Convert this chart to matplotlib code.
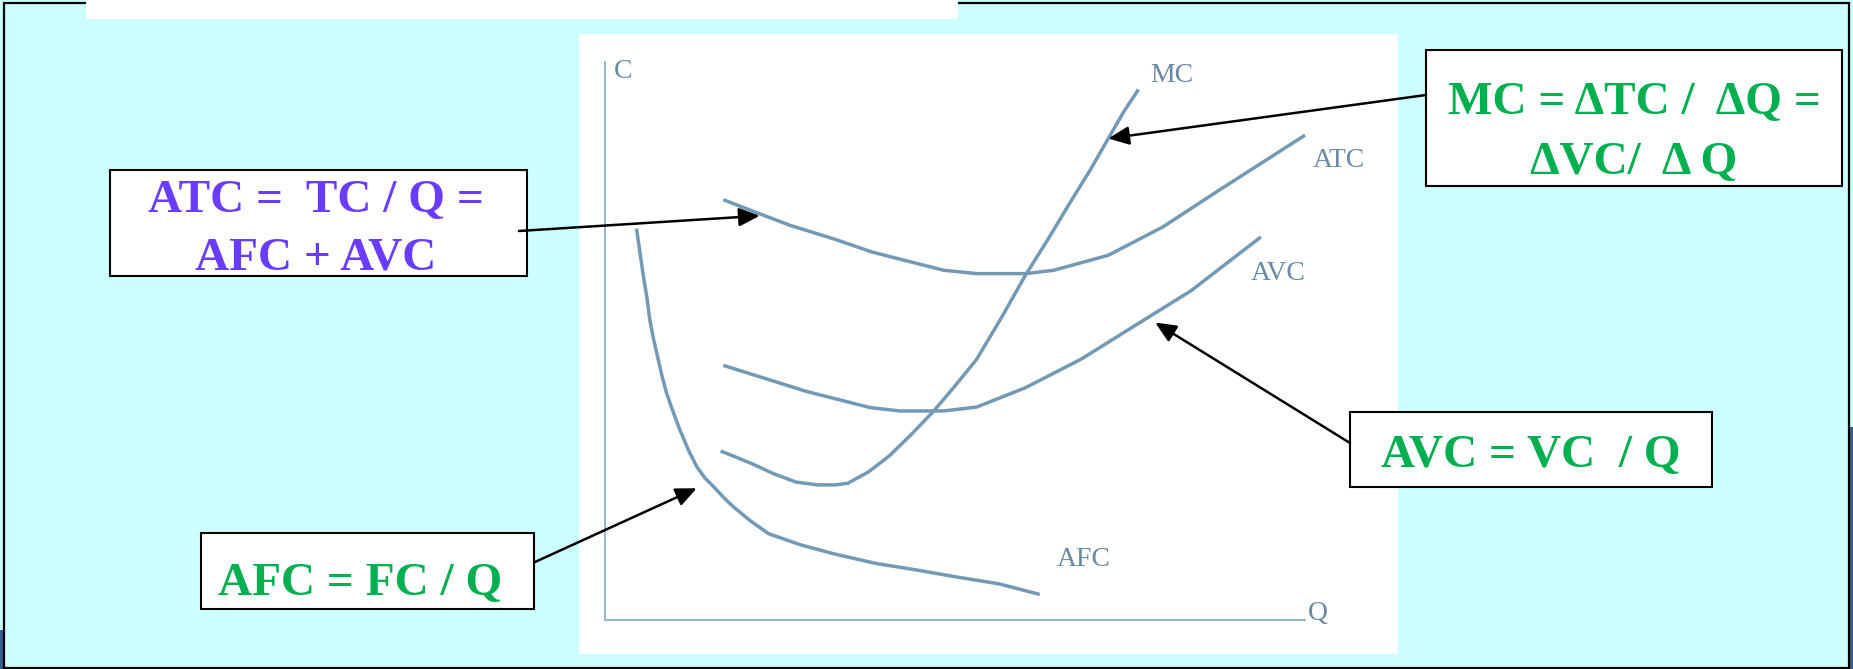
import matplotlib
matplotlib.use("Agg")
import matplotlib.pyplot as plt
from matplotlib.patches import Rectangle

# ---------------- data (chart units: Q 0..100, C 0..100) ----------------
atc_q = [16.9, 21.8, 26.4, 32.8, 38.1, 43.7, 48.4, 53.1, 60.1, 64.1, 71.9, 79.7, 87.6, 100.0]
atc_c = [75.6, 73.2, 71.0, 68.5, 66.2, 64.4, 62.9, 62.3, 62.3, 62.9, 65.6, 70.7, 77.2, 87.2]

avc_q = [16.9, 28.8, 37.9, 42.1, 48.4, 53.1, 60.1, 68.0, 75.9, 83.7, 93.7]
avc_c = [45.8, 41.1, 38.2, 37.6, 37.6, 38.3, 41.8, 46.9, 53.1, 59.2, 68.9]

mc_q = [16.5, 18.7, 21.0, 24.1, 27.3, 30.4, 32.9, 34.7, 37.6, 40.6, 43.7, 46.9,
        50.0, 53.1, 56.6, 60.1, 63.3, 66.4, 69.3, 71.9, 74.1, 76.2]
mc_c = [30.4, 29.3, 28.1, 26.3, 24.8, 24.3, 24.3, 24.6, 26.6, 29.5, 33.3, 37.5,
        42.1, 46.9, 54.3, 62.1, 68.5, 75.0, 80.9, 86.6, 91.4, 95.4]

afc_q = [4.5, 5.5, 6.0, 6.4, 6.9, 7.4, 8.1, 8.8, 9.8, 10.7, 11.9, 13.1, 14.3,
         15.5, 16.9, 18.3, 20.8, 23.4, 28.0, 32.7, 38.6, 44.5, 50.4, 56.3, 62.1]
afc_c = [70.4, 61.7, 57.9, 54.0, 50.7, 48.0, 44.1, 40.8, 37.2, 34.2, 30.6, 27.6, 25.5,
         24.0, 22.1, 20.4, 17.8, 15.5, 13.5, 11.9, 10.2, 9.0, 7.7, 6.5, 4.6]

curve_names = ["MC", "ATC", "AVC", "AFC"]
axis_names = ["C", "Q"]

# formula boxes: lines of text
atc_lines = ["ATC =  TC / Q =", "AFC + AVC"]
mc_lines = ["MC = \u0394TC /  \u0394Q =", "\u0394VC/  \u0394 Q"]
afc_lines = ["AFC = FC / Q"]
avc_lines = ["AVC = VC  / Q"]

# arrow targets on the curves (chart units)
atc_arrow_tip = (22.1, 72.7)
mc_arrow_tip = (71.9, 86.6)
avc_arrow_tip = (78.6, 53.5)
afc_arrow_tip = (13.1, 23.7)

# ---------------- style ----------------
CYAN = "#CCFFFF"
CURVE = "#7499B5"
AXCOL = "#94B4CC"
LABCOL = "#6A8AA6"
GREEN = "#00B050"
PURPLE = "#6A3CFF"
SERIF = ["Liberation Serif", "DejaVu Serif"]

W, H = 1853, 669
fig = plt.figure(figsize=(W / 100, H / 100), dpi=100)
fig.patch.set_facecolor(CYAN)

# background layer (pixel coordinates)
bg = fig.add_axes([0, 0, 1, 1], zorder=0)
bg.set_xlim(0, W)
bg.set_ylim(H, 0)
bg.axis("off")
bg.add_patch(Rectangle((0, 630), 3, 39, fc="#3A5F8F", ec="none"))
bg.add_patch(Rectangle((1850, 427), 3, 242, fc="#3A5F8F", ec="none"))
bg.add_patch(Rectangle((4, 3), 1845, 665, fill=False, ec="black", lw=1.6))
bg.add_patch(Rectangle((86, -2), 872, 21, fc="white", ec="none"))
bg.add_patch(Rectangle((579, 34), 819, 620, fc="white", ec="none"))

# chart axes
ax = fig.add_axes([605 / W, 1 - 620 / H, 700 / W, 556 / H], zorder=1)
ax.set_xlim(0, 100)
ax.set_ylim(0, 100)
ax.patch.set_alpha(0)
for s in ("top", "right"):
    ax.spines[s].set_visible(False)
for s in ("left", "bottom"):
    ax.spines[s].set_color(AXCOL)
    ax.spines[s].set_linewidth(1.4)
ax.spines["left"].set_bounds(0, 100.4)
ax.set_xticks([])
ax.set_yticks([])

for q, c in [(atc_q, atc_c), (avc_q, avc_c), (mc_q, mc_c), (afc_q, afc_c)]:
    ax.plot(q, c, color=CURVE, lw=2.5, solid_capstyle="butt",
            solid_joinstyle="round", clip_on=False)

label_pos = {"MC": (81.0, 98.0), "ATC": (104.9, 82.6), "AVC": (96.2, 62.4),
             "AFC": (68.4, 10.9), "C": (2.6, 98.7), "Q": (101.9, 1.1)}
for name in curve_names + axis_names:
    x, y = label_pos[name]
    ax.text(x, y, name, color=LABCOL, fontsize=20, family=SERIF,
            ha="center", va="center", clip_on=False)

# foreground layer for boxes and arrows
fg = fig.add_axes([0, 0, 1, 1], zorder=3)
fg.set_xlim(0, W)
fg.set_ylim(H, 0)
fg.axis("off")
fg.patch.set_alpha(0)


def box(x0, y0, x1, y1, lines, baselines, xc, color):
    fg.add_patch(Rectangle((x0, y0), x1 - x0, y1 - y0, fc="white",
                           ec="black", lw=1.5, zorder=2))
    for t, yb in zip(lines, baselines):
        fg.text(xc, yb, t, color=color, fontsize=34, fontweight="bold",
                family=SERIF, ha="center", va="baseline", zorder=3)


box(110, 170, 527, 276, atc_lines, [212, 269], 316, PURPLE)
box(1426, 50, 1842, 186, mc_lines, [114, 174], 1634, GREEN)
box(201, 533, 534, 609, afc_lines, [595], 360, GREEN)
box(1350, 412, 1712, 487, avc_lines, [467], 1531, GREEN)

aprops = dict(arrowstyle="-|>,head_length=0.45,head_width=0.2",
              mutation_scale=28, lw=1.8, color="black",
              shrinkA=0, shrinkB=0)
for tip, start in [(atc_arrow_tip, (519, 231)), (mc_arrow_tip, (1426, 95)),
                   (avc_arrow_tip, (1350, 443)), (afc_arrow_tip, (535, 562))]:
    fg.annotate("", xy=tip, xycoords=ax.transData, xytext=start,
                textcoords=fg.transData, arrowprops=aprops, zorder=4)

fig.savefig("out.png", dpi=100, facecolor=fig.get_facecolor())
